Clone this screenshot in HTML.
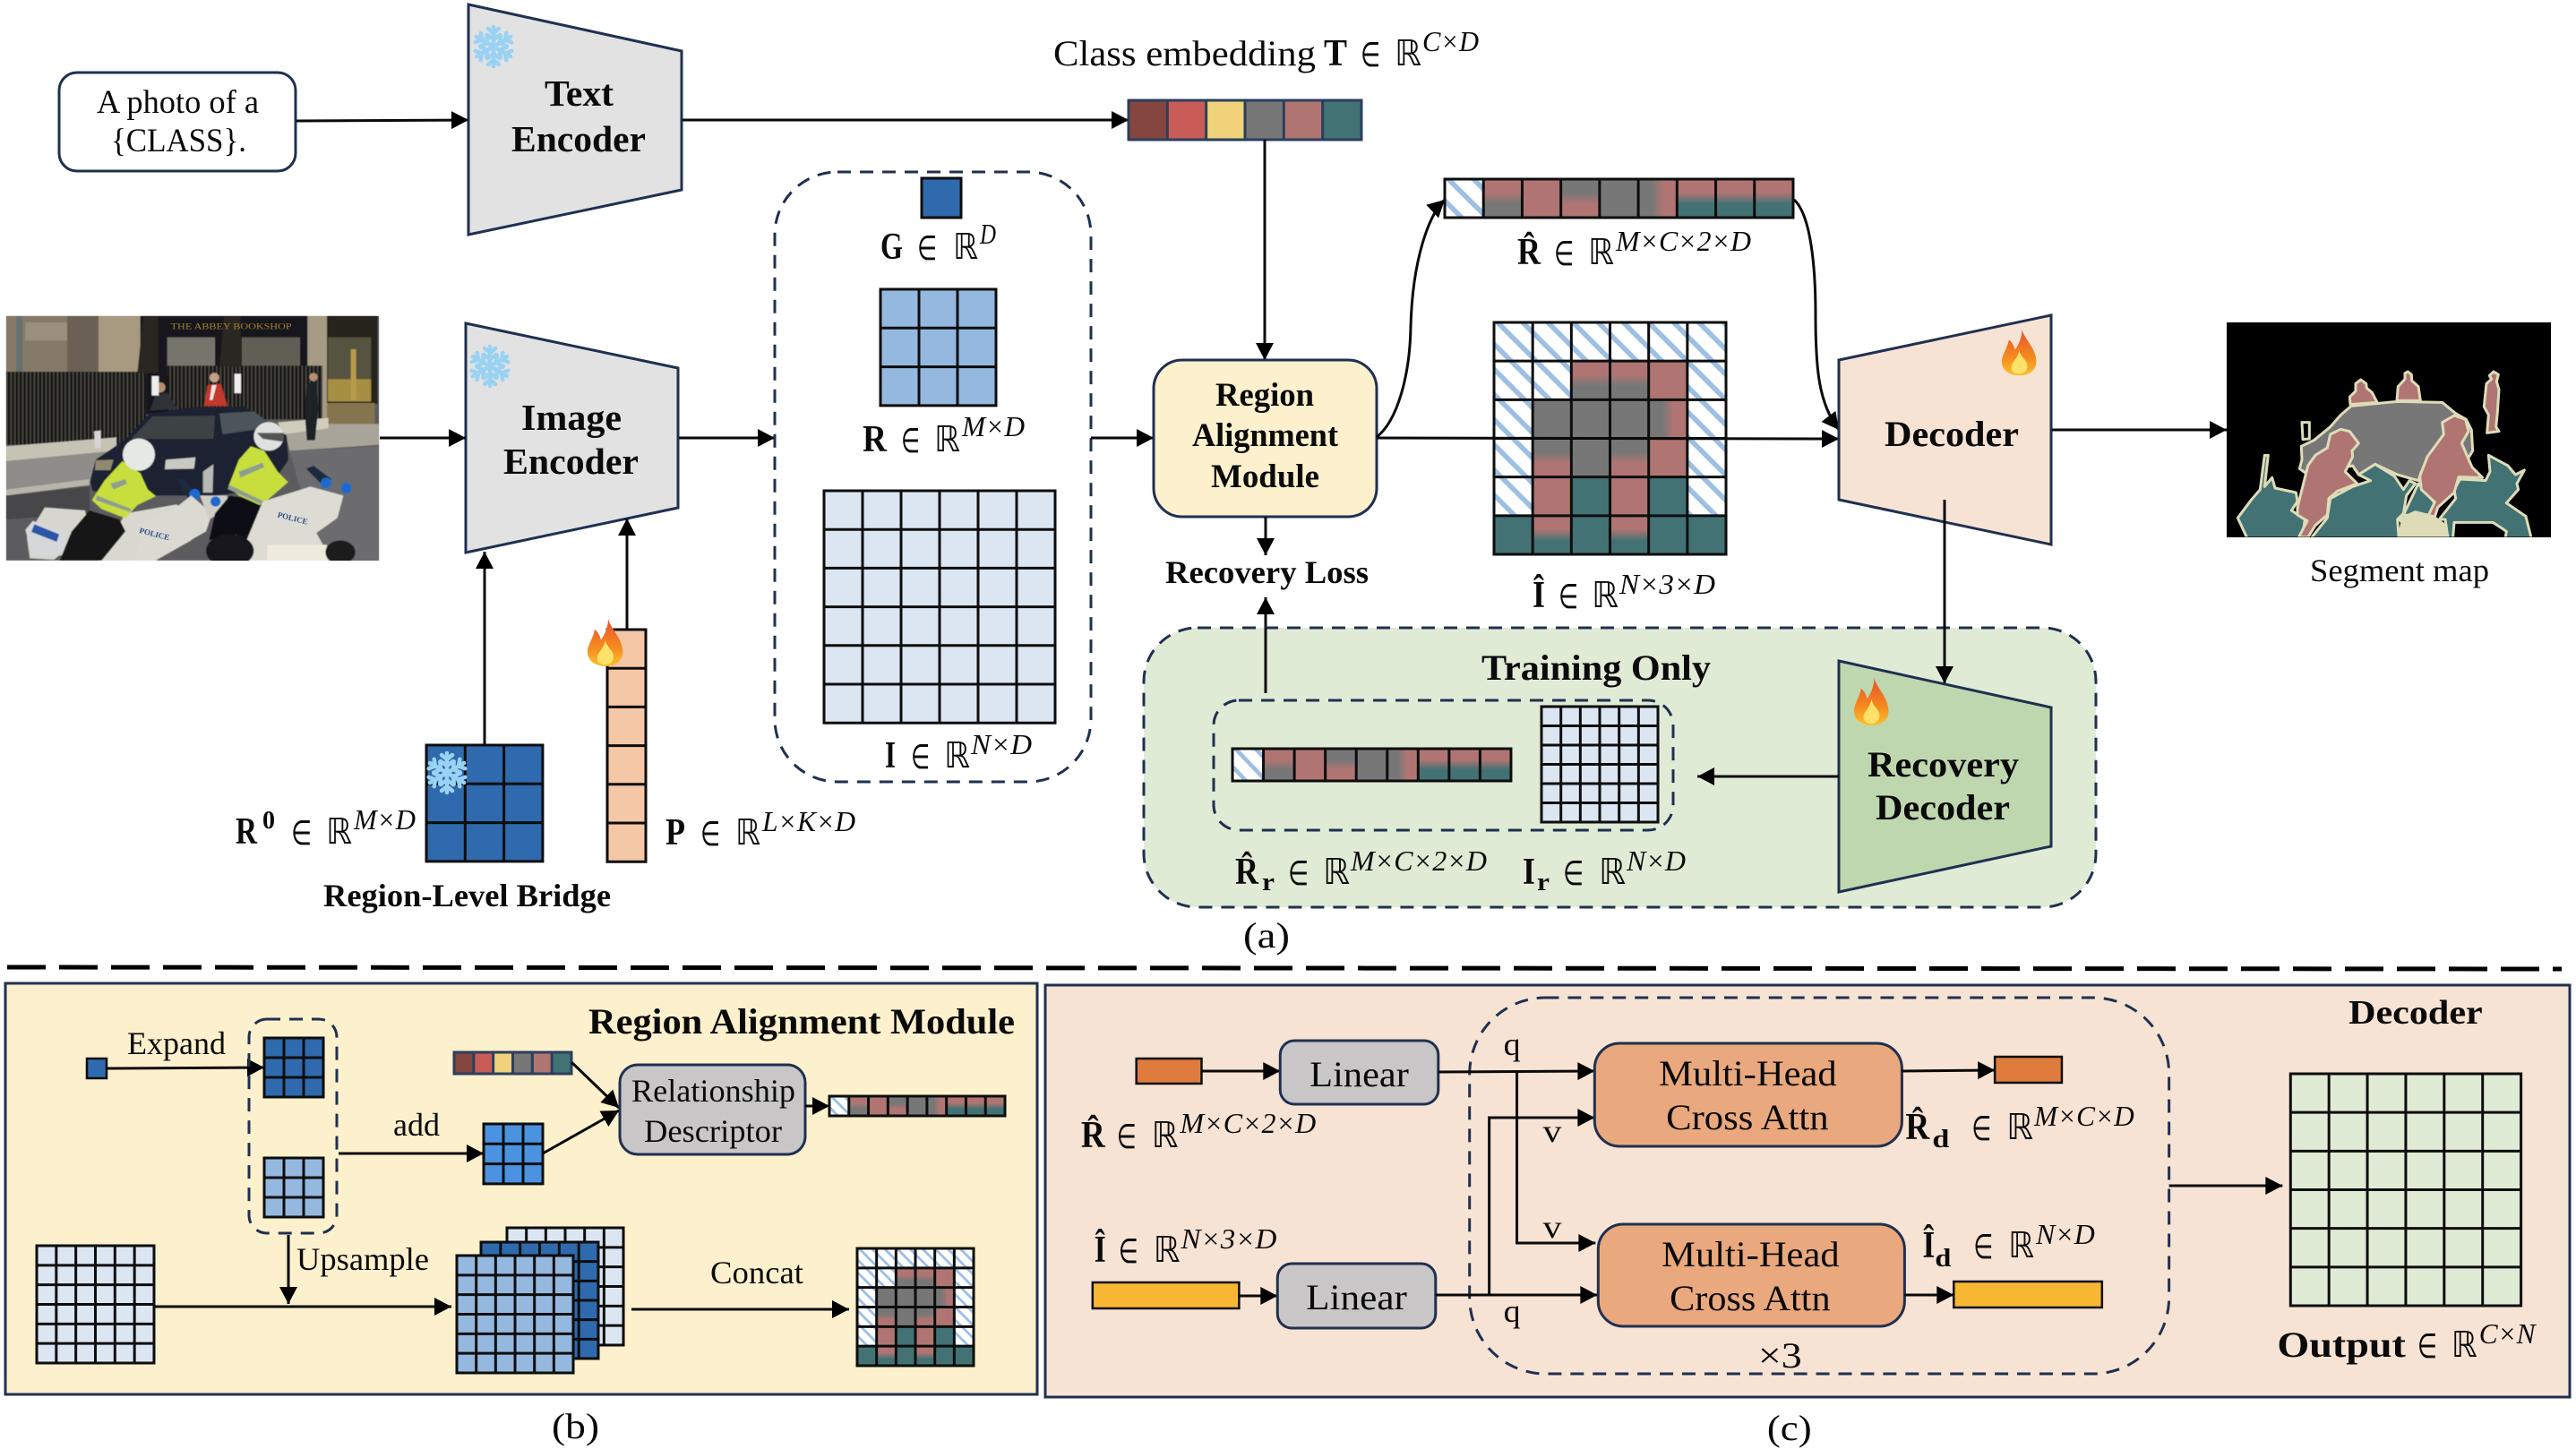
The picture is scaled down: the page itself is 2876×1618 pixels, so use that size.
<!DOCTYPE html>
<html><head><meta charset="utf-8"><title>Region alignment diagram</title>
<style>
html,body{margin:0;padding:0;background:#fff}
svg{display:block}
text{font-family:"Liberation Serif",serif;fill:#0a0a0a}
.b{font-weight:bold}
.s{font-family:"DejaVu Sans",sans-serif}
.i{font-style:italic}
.ln{fill:none;stroke:#0a0a0a;stroke-width:3}
.gr{fill:none;stroke:#0d0d0d;stroke-width:3}
.nv{stroke:#1f3050;stroke-width:3}
.dash{fill:none;stroke:#1f3050;stroke-width:3;stroke-dasharray:15 10}
</style></head><body>
<svg xmlns="http://www.w3.org/2000/svg" width="2876" height="1618" viewBox="0 0 2876 1618">
<defs>
<marker id="a" markerUnits="userSpaceOnUse" markerWidth="22" markerHeight="24" refX="20" refY="12" orient="auto"><path d="M1 2L20 12L1 22z" fill="#000"/></marker>
<pattern id="h" patternUnits="userSpaceOnUse" width=".46" height=".46" patternTransform="rotate(-45)"><rect width=".46" height=".46" fill="#fff"/><rect width=".13" height=".46" fill="#9dbfe3"/></pattern>
<linearGradient id="pg" x1="0" y1="0" x2="0" y2="1"><stop offset=".35" stop-color="#b07572"/><stop offset=".65" stop-color="#777"/></linearGradient>
<linearGradient id="gp" x1="0" y1="0" x2="0" y2="1"><stop offset=".35" stop-color="#777"/><stop offset=".65" stop-color="#b07572"/></linearGradient>
<linearGradient id="pt" x1="0" y1="0" x2="0" y2="1"><stop offset=".35" stop-color="#b07572"/><stop offset=".65" stop-color="#427274"/></linearGradient>
<linearGradient id="gh" x1="0" y1="0" x2="1" y2="0"><stop offset=".35" stop-color="#777"/><stop offset=".65" stop-color="#b07572"/></linearGradient>
<linearGradient id="fl" x1="0" y1="0" x2="0" y2="1"><stop offset="0" stop-color="#e8502a"/><stop offset=".6" stop-color="#f58a1f"/><stop offset="1" stop-color="#fbc02d"/></linearGradient>
<filter id="soft" x="0" y="0" width="100%" height="100%"><feGaussianBlur stdDeviation="1.6"/></filter>
<path id="g3" vector-effect="non-scaling-stroke" fill="none" d="M0 0H3V3H0ZM1 0V3M2 0V3M0 1H3M0 2H3"/>
<path id="g6" vector-effect="non-scaling-stroke" fill="none" d="M0 0H6V6H0ZM1 0V6M2 0V6M3 0V6M4 0V6M5 0V6M0 1H6M0 2H6M0 3H6M0 4H6M0 5H6"/>
<path id="g61" vector-effect="non-scaling-stroke" fill="none" d="M0 0H6V1H0ZM1 0V1M2 0V1M3 0V1M4 0V1M5 0V1"/>
<path id="g16" vector-effect="non-scaling-stroke" fill="none" d="M0 0H1V6H0ZM0 1H1M0 2H1M0 3H1M0 4H1M0 5H1"/>
<path id="g91" vector-effect="non-scaling-stroke" fill="none" d="M0 0H9V1H0ZM1 0V1M2 0V1M3 0V1M4 0V1M5 0V1M6 0V1M7 0V1M8 0V1"/>
<g id="tbar"><g stroke="none"><rect width="1" height="1" fill="#84463f"/><rect x="1" width="1" height="1" fill="#c95c57"/><rect x="2" width="1" height="1" fill="#efd27a"/><rect x="3" width="1" height="1" fill="#777"/><rect x="4" width="1" height="1" fill="#b07572"/><rect x="5" width="1" height="1" fill="#427274"/></g><use href="#g61"/></g>
<g id="rbar"><g stroke="none"><rect width="1" height="1" fill="url(#h)"/><rect x="1" width="1" height="1" fill="url(#pg)"/><rect x="2" width="1" height="1" fill="#b07572"/><rect x="3" width="1" height="1" fill="url(#gp)"/><rect x="4" width="1" height="1" fill="#777"/><rect x="5" width="1" height="1" fill="url(#gh)"/><rect x="6" width="1" height="1" fill="url(#pt)"/><rect x="7" width="1" height="1" fill="url(#pt)"/><rect x="8" width="1" height="1" fill="url(#pt)"/></g><use href="#g91"/></g>
<g id="ihat"><g stroke="none">
<rect width="6" height="1" fill="url(#h)"/><rect y="1" width="2" height="1" fill="url(#h)"/><rect x="2" y="1" width="1" height="1" fill="url(#pg)"/><rect x="3" y="1" width="1" height="1" fill="url(#pg)"/><rect x="4" y="1" width="1" height="1" fill="#b07572"/><rect x="5" y="1" width="1" height="4" fill="url(#h)"/>
<rect y="2" width="1" height="3" fill="url(#h)"/><rect x="1" y="2" width="3" height="1" fill="#777"/><rect x="4" y="2" width="1" height="1" fill="url(#gh)"/>
<rect x="1" y="3" width="1" height="1" fill="url(#gp)"/><rect x="2" y="3" width="1" height="1" fill="#777"/><rect x="3" y="3" width="1" height="1" fill="url(#gp)"/><rect x="4" y="3" width="1" height="1" fill="#b07572"/>
<rect x="1" y="4" width="1" height="1" fill="#b07572"/><rect x="2" y="4" width="1" height="1" fill="#427274"/><rect x="3" y="4" width="1" height="1" fill="#b07572"/><rect x="4" y="4" width="1" height="1" fill="#427274"/>
<rect y="5" width="6" height="1" fill="#427274"/><rect x="1" y="5" width="1" height="1" fill="url(#pt)"/><rect x="3" y="5" width="1" height="1" fill="url(#pt)"/>
</g><use href="#g6"/></g>
<g id="snow" fill="none" stroke="#9ad2f3" stroke-width="4.5" stroke-linecap="round">
<g id="arm"><path d="M25 25V3M25 10L19 5M25 10L31 5M25 17L18 12M25 17L32 12"/></g>
<use href="#arm" transform="rotate(60 25 25)"/><use href="#arm" transform="rotate(120 25 25)"/><use href="#arm" transform="rotate(180 25 25)"/><use href="#arm" transform="rotate(240 25 25)"/><use href="#arm" transform="rotate(300 25 25)"/>
</g>
<g id="flame"><path d="M24 0C26 10 38 20 40 34C42 47 33 54 21 54C9 54 0 47 1 36C2 28 7 23 9 12C13 15 15 20 16 24C20 18 24 9 24 0Z" fill="url(#fl)"/><path d="M21 24C22 33 31 36 30 44C29 50 25 52 20 52C14 52 11 48 12 43C13 38 19 34 21 24Z" fill="#fde26a"/></g>
<clipPath id="pc"><rect x="20" y="38" width="1250" height="820"/></clipPath>
<clipPath id="sc"><rect x="49" y="59" width="1084" height="719"/></clipPath>
<pattern id="fence" patternUnits="userSpaceOnUse" width="13" height="20"><rect width="13" height="20" fill="#55524a"/><rect width="9" height="20" fill="#121317"/></pattern>
</defs>

<!-- photo -->
<g clip-path="url(#pc)" transform="translate(0 340) scale(.33333)"><g filter="url(#soft)">
<rect x="20" y="38" width="1250" height="820" fill="#5c5c5e"/>
<rect x="20" y="38" width="320" height="300" fill="#857a68"/><rect x="225" y="38" width="105" height="190" fill="#6b6152"/><rect x="85" y="60" width="140" height="60" fill="#9a8f7c"/><rect x="330" y="38" width="140" height="300" fill="#a89a80"/>
<rect x="55" y="38" width="20" height="190" fill="#66706f"/>
<rect x="470" y="38" width="560" height="330" fill="#17171a"/>
<rect x="560" y="110" width="160" height="130" fill="#74746c"/><rect x="810" y="110" width="195" height="130" fill="#5e5e56"/>
<rect x="1030" y="38" width="65" height="370" fill="#a59a84"/><rect x="1095" y="38" width="170" height="295" fill="#26241f"/>
<rect x="1098" y="110" width="145" height="140" fill="#57523f"/><rect x="1098" y="250" width="145" height="75" fill="#a68f42"/><rect x="1175" y="150" width="18" height="170" fill="#b89a4c"/>
<rect x="1095" y="330" width="160" height="80" fill="#85754f"/>
<rect x="20" y="225" width="470" height="245" fill="url(#fence)"/><rect x="560" y="205" width="520" height="180" fill="url(#fence)"/>
<polygon points="460,230 480,38 530,38 530,230" fill="#2a2520"/><polygon points="735,210 750,38 805,38 810,210" fill="#2a2520"/>
<polygon points="20,475 390,445 390,490 20,525" fill="#c6c2b4"/>
<polygon points="20,525 400,490 320,590 20,620" fill="#8f8d89"/><polygon points="20,620 300,585 300,605 20,640" fill="#b8b5aa"/>
<polygon points="20,640 300,610 300,700 20,720" fill="#47474a"/>
<polygon points="950,400 1270,400 1270,470 970,490" fill="#a8a49a"/><polygon points="930,395 1100,380 1100,415 950,435" fill="#d0ccbc"/>
<polygon points="970,490 1270,475 1270,860 1100,860 1000,600" fill="#6c6c6e"/>
<polygon points="503,355 520,305 560,295 595,350" fill="#2e3238"/><circle cx="537" cy="278" r="17" fill="#b48f73"/>
<polygon points="683,340 695,270 740,265 762,340" fill="#c2392c"/><circle cx="718" cy="245" r="16" fill="#c6a082"/><polygon points="702,320 710,270 725,270 712,320" fill="#e8e8e8"/>
<rect x="508" y="240" width="24" height="65" fill="#eee"/><rect x="785" y="232" width="22" height="65" fill="#eee"/>
<polygon points="1020,355 1028,265 1060,260 1066,350 1055,455 1028,455" fill="#1d2026"/><circle cx="1050" cy="243" r="14" fill="#b48f73"/>
<polygon points="302,590 320,520 420,452 500,365 640,345 820,342 880,380 960,440 966,520 900,620 720,640 500,640 310,625" fill="#1a2030"/>
<polygon points="440,450 510,375 720,372 715,450" fill="#3d4244"/><polygon points="735,365 850,358 900,395 850,420 745,435" fill="#4c545a"/>
<polygon points="555,520 655,512 650,550 552,552" fill="#c8c9c0"/><polygon points="320,522 380,520 370,555 318,555" fill="#8f8a70"/>
<polygon points="315,425 338,422 338,480 318,482" fill="#d8d4d4"/>
<polygon points="680,560 715,535 712,630 680,630" fill="#b8b8b4"/>
<polygon points="90,780 150,680 285,690 300,760 180,855 100,850" fill="#d6d6ce"/>
<polygon points="85,755 110,725 225,760 215,840 110,845" fill="#d5d7d8"/><polygon points="105,762 115,736 198,770 190,795" fill="#2a55a8"/>
<polygon points="330,860 420,700 590,670 700,720 640,790 520,858" fill="#d8d8d0"/>
<polygon points="240,760 300,690 400,720 420,760 340,858 200,858" fill="#121214"/>
<polygon points="308,655 350,590 410,525 470,565 495,620 522,642 460,672 420,716 340,685" fill="#c8de3e"/>
<polygon points="325,640 440,685 435,695 320,655" fill="#8d9e8e"/><polygon points="370,600 420,585 425,600 380,620" fill="#8d9e8e"/>
<ellipse cx="465" cy="503" rx="54" ry="54" fill="#e6e8e4"/>
<polygon points="590,580 620,590 660,640 630,650" fill="#1f2a40"/><circle cx="652" cy="636" r="18" fill="#1f6bd0"/>
<polygon points="590,680 640,640 710,700 690,760 620,800 520,858 450,858 480,730" fill="#dadad2"/>
<polygon points="670,640 760,640 770,680 700,720" fill="#cfcfc8"/><circle cx="722" cy="660" r="17" fill="#1f6bd0"/>
<polygon points="720,700 770,640 900,660 900,720 830,790 790,770 700,790" fill="#101012"/>
<polygon points="765,610 800,520 840,475 885,490 930,560 965,595 890,660 870,672 800,640" fill="#c8de3e"/>
<polygon points="770,605 885,660 880,672 762,618" fill="#8d9e8e"/><polygon points="800,560 880,530 885,545 805,580" fill="#8d9e8e"/>
<ellipse cx="900" cy="442" rx="50" ry="48" fill="#dfe1e0"/><polygon points="860,430 950,430 950,460 880,450" fill="#555"/>
<polygon points="880,660 1040,610 1150,640 1130,715 1060,765 1110,858 800,858 830,780" fill="#dcdcd4"/>
<polygon points="1025,550 1050,540 1110,585 1085,610" fill="#1f2a40"/><circle cx="1092" cy="598" r="18" fill="#1f6bd0"/><circle cx="1160" cy="615" r="18" fill="#1f6bd0"/>
<ellipse cx="770" cy="825" rx="80" ry="55" fill="#17171c"/>
<rect x="895" y="805" width="200" height="60" fill="#efeadb"/>
<ellipse cx="1140" cy="830" rx="50" ry="40" fill="#1c1c1c"/>
</g>
<text x="572" y="82" font-size="28" style="fill:#a5802f" textLength="405" lengthAdjust="spacingAndGlyphs">THE ABBEY BOOKSHOP</text>
<text x="465" y="765" font-size="27" class="b" style="fill:#354e88" transform="rotate(14 465 765)">POLICE</text>
<text x="928" y="712" font-size="27" class="b" style="fill:#354e88" transform="rotate(14 928 712)">POLICE</text>
</g>

<!-- seg map -->
<rect x="2486" y="360" width="362" height="240" fill="#000"/>
<g transform="translate(2470 340) scale(.33333)" clip-path="url(#sc)" stroke="#dedcb8" stroke-width="9" stroke-linejoin="round">
<polygon fill="#777" points="298,475 340,455 395,410 430,370 465,340 620,325 770,328 815,365 850,385 868,420 872,490 860,510 700,560 690,590 620,570 545,535 490,570 470,540 320,570 292,550 300,520"/>
<g fill="#b07572">
<polygon points="462,335 460,310 480,290 480,265 497,252 515,265 517,280 535,295 552,328"/>
<polygon points="618,322 622,275 645,250 645,230 655,225 667,235 668,255 690,275 697,322"/>
<polygon points="920,430 925,370 910,342 918,265 935,250 928,238 942,225 958,235 952,258 960,285 955,360 950,410 960,425"/>
</g>
<polygon fill="#000" points="300,395 325,395 325,450 303,452"/>
<g fill="#427274">
<polygon points="85,715 130,655 160,620 175,505 187,505 175,610 200,580 210,615 280,630 285,660 265,690 310,720 300,790 120,790"/>
<polygon points="325,790 385,715 395,650 470,610 530,590 490,570 545,535 610,575 640,620 660,590 680,600 650,640 640,700 620,720 625,790"/>
<polygon points="640,705 690,600 745,665 725,710"/>
<polygon points="760,720 815,650 810,620 830,585 915,590 930,560 925,505 990,540 1015,570 1045,555 1020,600 1025,620 985,665 1050,710 1070,790 980,790 985,760 940,730 810,730 805,790 790,790 780,720"/>
</g>
<g fill="#b07572">
<polygon points="290,778 318,725 285,705 285,680 305,600 320,540 345,505 385,480 395,435 430,418 460,425 490,465 468,490 470,510 445,560 485,600 420,625 390,650 385,705 345,740 320,780"/>
<polygon points="722,710 745,662 700,620 695,575 720,510 775,435 770,395 810,372 848,385 858,425 835,465 870,545 905,580 825,578 810,630 755,680 745,712"/>
</g>
<polygon fill="#dedcb8" points="625,780 635,730 625,720 680,695 740,710 780,740 790,780"/>
</g>

<!-- prompt -->
<rect x="66" y="81" width="264" height="110" rx="20" fill="#fff" class="nv"/>
<text x="108" y="126" font-size="37" textLength="181" lengthAdjust="spacingAndGlyphs">A photo of a</text>
<text x="124" y="169" font-size="37" textLength="151" lengthAdjust="spacingAndGlyphs">{CLASS}.</text>
<path d="M331 135L523 134" class="ln" marker-end="url(#a)"/>

<!-- encoders -->
<polygon points="523,5 761,57 761,212 523,262" fill="#e2e2e2" class="nv"/>
<text x="608" y="118" font-size="41" class="b" textLength="77" lengthAdjust="spacingAndGlyphs">Text</text>
<text x="571" y="169" font-size="41" class="b" textLength="150" lengthAdjust="spacingAndGlyphs">Encoder</text>
<use href="#snow" x="526" y="27"/>
<polygon points="520,361 757,411 757,567 520,617" fill="#e2e2e2" class="nv"/>
<text x="582" y="480" font-size="41" class="b" textLength="112" lengthAdjust="spacingAndGlyphs">Image</text>
<text x="562" y="529" font-size="41" class="b" textLength="151" lengthAdjust="spacingAndGlyphs">Encoder</text>
<use href="#snow" x="522" y="384"/>
<path d="M424 489H520" class="ln" marker-end="url(#a)"/>
<path d="M758 489H865" class="ln" marker-end="url(#a)"/>
<path d="M762 134H1260" class="ln" marker-end="url(#a)"/>

<!-- bridge -->
<path d="M541 832V616" class="ln" marker-end="url(#a)"/>
<path d="M700 703V579" class="ln" marker-end="url(#a)"/>
<g class="gr" transform="translate(476 832) scale(43.3 43.3)"><rect width="3" height="3" fill="#2e6aad" stroke="none"/><use href="#g3"/></g>
<use href="#snow" x="474" y="838"/>
<g class="gr" transform="translate(678 703) scale(43 43.2)"><rect width="1" height="6" fill="#f4c7a7" stroke="none"/><use href="#g16"/></g>
<use href="#flame" transform="translate(655 691) scale(1 .98)"/>

<text x="263" y="942" font-size="42" class="b" textLength="24" lengthAdjust="spacingAndGlyphs">R</text>
<text x="293" y="925" font-size="28" class="b" textLength="14" lengthAdjust="spacingAndGlyphs">0</text>
<text x="325" y="943" font-size="38" class="s" textLength="23" lengthAdjust="spacingAndGlyphs">∈</text>
<text x="364" y="942" font-size="40" class="s" textLength="29" lengthAdjust="spacingAndGlyphs">ℝ</text>
<text x="395" y="926" font-size="32" class="i" textLength="69" lengthAdjust="spacingAndGlyphs">M×D</text>

<text x="743" y="943" font-size="42" class="b" textLength="22" lengthAdjust="spacingAndGlyphs">P</text>
<text x="782" y="944" font-size="38" class="s" textLength="22" lengthAdjust="spacingAndGlyphs">∈</text>
<text x="821" y="943" font-size="40" class="s" textLength="28" lengthAdjust="spacingAndGlyphs">ℝ</text>
<text x="851" y="928" font-size="32" class="i" textLength="104" lengthAdjust="spacingAndGlyphs">L×K×D</text>
<text x="361" y="1012" font-size="36" class="b" textLength="321" lengthAdjust="spacingAndGlyphs">Region-Level Bridge</text>

<!-- dashed G R I -->
<rect x="865" y="192" width="353" height="681" rx="70" class="dash"/>
<rect x="1029" y="199" width="44" height="44" fill="#2e6aad" stroke="#0d0d0d" stroke-width="3"/>
<text x="983" y="289" font-size="42" class="b" textLength="25" lengthAdjust="spacingAndGlyphs">G</text>
<text x="1024" y="290" font-size="38" class="s" textLength="22" lengthAdjust="spacingAndGlyphs">∈</text>
<text x="1064" y="289" font-size="40" class="s" textLength="28" lengthAdjust="spacingAndGlyphs">ℝ</text>
<text x="1094" y="272" font-size="32" class="i" textLength="18" lengthAdjust="spacingAndGlyphs">D</text>
<g class="gr" transform="translate(983 323) scale(43 43.3)"><rect width="3" height="3" fill="#95b8df" stroke="none"/><use href="#g3"/></g>
<text x="963" y="504" font-size="42" class="b" textLength="27" lengthAdjust="spacingAndGlyphs">R</text>
<text x="1006" y="505" font-size="38" class="s" textLength="21" lengthAdjust="spacingAndGlyphs">∈</text>
<text x="1043" y="504" font-size="40" class="s" textLength="29" lengthAdjust="spacingAndGlyphs">ℝ</text>
<text x="1074" y="487" font-size="32" class="i" textLength="70" lengthAdjust="spacingAndGlyphs">M×D</text>
<g class="gr" transform="translate(920 548) scale(43 43.2)"><rect width="6" height="6" fill="#dce6f2" stroke="none"/><use href="#g6"/></g>
<text x="988" y="857" font-size="42" class="b" textLength="12" lengthAdjust="spacingAndGlyphs">I</text>
<text x="1017" y="858" font-size="38" class="s" textLength="21" lengthAdjust="spacingAndGlyphs">∈</text>
<text x="1054" y="857" font-size="40" class="s" textLength="29" lengthAdjust="spacingAndGlyphs">ℝ</text>
<text x="1084" y="842" font-size="32" class="i" textLength="68" lengthAdjust="spacingAndGlyphs">N×D</text>

<!-- class embedding -->
<text x="1176" y="73" font-size="40" textLength="293" lengthAdjust="spacingAndGlyphs">Class embedding</text>
<text x="1478" y="73" font-size="42" class="b" textLength="26" lengthAdjust="spacingAndGlyphs">T</text>
<text x="1519" y="74" font-size="38" class="s" textLength="22" lengthAdjust="spacingAndGlyphs">∈</text>
<text x="1557" y="73" font-size="40" class="s" textLength="30" lengthAdjust="spacingAndGlyphs">ℝ</text>
<text x="1588" y="57" font-size="32" class="i" textLength="63" lengthAdjust="spacingAndGlyphs">C×D</text>
<g class="gr" style="stroke:#2c3e5e" transform="translate(1260 112) scale(43.33 44)"><use href="#tbar"/></g>

<!-- RAM -->
<path d="M1412 156V402" class="ln" marker-end="url(#a)"/>
<path d="M1218 489H1288" class="ln" marker-end="url(#a)"/>
<rect x="1288" y="402" width="249" height="175" rx="32" fill="#fdf0cc" class="nv"/>
<text x="1357" y="453" font-size="37" class="b" textLength="110" lengthAdjust="spacingAndGlyphs">Region</text>
<text x="1331" y="498" font-size="37" class="b" textLength="163" lengthAdjust="spacingAndGlyphs">Alignment</text>
<text x="1352" y="544" font-size="37" class="b" textLength="121" lengthAdjust="spacingAndGlyphs">Module</text>
<path d="M1413 577V620" class="ln" marker-end="url(#a)"/>
<text x="1301" y="651" font-size="36" class="b" textLength="227" lengthAdjust="spacingAndGlyphs">Recovery Loss</text>
<path d="M1413 774V667" class="ln" marker-end="url(#a)"/>

<!-- R hat and I hat -->
<path d="M1537 488C1560 470 1574 420 1575 365C1577 290 1595 240 1613 223" class="ln" marker-end="url(#a)"/>
<path d="M2003 223C2022 240 2027 300 2027 351C2027 410 2030 450 2053 480" class="ln" marker-end="url(#a)"/>
<g class="gr" transform="translate(1613 200) scale(43.22 43)"><use href="#rbar"/></g>
<text x="1694" y="295" font-size="42" class="b" textLength="26" lengthAdjust="spacingAndGlyphs">R&#x302;</text>
<text x="1735" y="296" font-size="38" class="s" textLength="22" lengthAdjust="spacingAndGlyphs">∈</text>
<text x="1773" y="295" font-size="40" class="s" textLength="29" lengthAdjust="spacingAndGlyphs">ℝ</text>
<text x="1804" y="280" font-size="32" class="i" textLength="151" lengthAdjust="spacingAndGlyphs">M×C×2×D</text>
<g class="gr" transform="translate(1668 360) scale(43.17 43.17)"><use href="#ihat"/></g>
<path d="M1537 489L2053 490" class="ln" marker-end="url(#a)"/>
<text x="1711" y="678" font-size="42" class="b" textLength="14" lengthAdjust="spacingAndGlyphs">I&#x302;</text>
<text x="1740" y="679" font-size="38" class="s" textLength="22" lengthAdjust="spacingAndGlyphs">∈</text>
<text x="1777" y="678" font-size="40" class="s" textLength="30" lengthAdjust="spacingAndGlyphs">ℝ</text>
<text x="1808" y="663" font-size="32" class="i" textLength="107" lengthAdjust="spacingAndGlyphs">N×3×D</text>

<!-- decoder -->
<polygon points="2053,402 2290,352 2290,608 2053,558" fill="#f7e3d4" class="nv"/>
<text x="2104" y="498" font-size="40" class="b" textLength="150" lengthAdjust="spacingAndGlyphs">Decoder</text>
<use href="#flame" transform="translate(2234 368) scale(.98 .95)"/>
<path d="M2291 480H2486" class="ln" marker-end="url(#a)"/>
<text x="2579" y="649" font-size="36" textLength="200" lengthAdjust="spacingAndGlyphs">Segment map</text>

<!-- training -->
<rect x="1277" y="701" width="1063" height="312" rx="60" fill="#e0ebd6" stroke="#1f3050" stroke-width="3" stroke-dasharray="15 10"/>
<path d="M1413 774V701" class="ln"/>
<path d="M2171 558V763" class="ln" marker-end="url(#a)"/>
<text x="1654" y="759" font-size="40" class="b" textLength="256" lengthAdjust="spacingAndGlyphs">Training Only</text>
<rect x="1355" y="782" width="513" height="145" rx="28" class="dash"/>
<g class="gr" transform="translate(1376 836) scale(34.55 36)"><use href="#rbar"/></g>
<g class="gr" transform="translate(1721 789) scale(21.67 21.5)"><rect width="6" height="6" fill="#dce6f2" stroke="none"/><use href="#g6"/></g>
<polygon points="2053,738 2290,790 2290,945 2053,996" fill="#bfd7ae" class="nv"/>
<text x="2085" y="867" font-size="40" class="b" textLength="169" lengthAdjust="spacingAndGlyphs">Recovery</text>
<text x="2094" y="915" font-size="40" class="b" textLength="150" lengthAdjust="spacingAndGlyphs">Decoder</text>
<use href="#flame" transform="translate(2069 757) scale(.98 .98)"/>
<path d="M2053 867H1895" class="ln" marker-end="url(#a)"/>
<text x="1379" y="987" font-size="42" class="b" textLength="26" lengthAdjust="spacingAndGlyphs">R&#x302;</text>
<text x="1409" y="994" font-size="28" class="b" textLength="14" lengthAdjust="spacingAndGlyphs">r</text>
<text x="1438" y="988" font-size="38" class="s" textLength="23" lengthAdjust="spacingAndGlyphs">∈</text>
<text x="1477" y="987" font-size="40" class="s" textLength="30" lengthAdjust="spacingAndGlyphs">ℝ</text>
<text x="1508" y="972" font-size="32" class="i" textLength="152" lengthAdjust="spacingAndGlyphs">M×C×2×D</text>
<text x="1700" y="987" font-size="42" class="b" textLength="14" lengthAdjust="spacingAndGlyphs">I</text>
<text x="1716" y="994" font-size="28" class="b" textLength="14" lengthAdjust="spacingAndGlyphs">r</text>
<text x="1745" y="988" font-size="38" class="s" textLength="23" lengthAdjust="spacingAndGlyphs">∈</text>
<text x="1785" y="987" font-size="40" class="s" textLength="30" lengthAdjust="spacingAndGlyphs">ℝ</text>
<text x="1816" y="972" font-size="32" class="i" textLength="66" lengthAdjust="spacingAndGlyphs">N×D</text>
<text x="1388" y="1058" font-size="40" textLength="52" lengthAdjust="spacingAndGlyphs">(a)</text>

<!-- separator -->
<path d="M8 1080L2860 1082" fill="none" stroke="#000" stroke-width="5" stroke-dasharray="43 15"/>

<!-- panel b -->
<rect x="6" y="1098" width="1152" height="459" fill="#fdf0cc" class="nv"/>
<text x="657" y="1154" font-size="40" class="b" textLength="476" lengthAdjust="spacingAndGlyphs">Region Alignment Module</text>
<rect x="97" y="1182" width="22" height="22" fill="#2e6aad" stroke="#0d0d0d" stroke-width="2.5"/>
<path d="M119 1193L295 1192" class="ln" marker-end="url(#a)"/>
<text x="142" y="1177" font-size="36" textLength="110" lengthAdjust="spacingAndGlyphs">Expand</text>
<rect x="278" y="1138" width="98" height="239" rx="20" class="dash"/>
<g class="gr" transform="translate(295 1159) scale(22 22)"><rect width="3" height="3" fill="#2e6aad" stroke="none"/><use href="#g3"/></g>
<g class="gr" transform="translate(295 1293) scale(22 22)"><rect width="3" height="3" fill="#95b8df" stroke="none"/><use href="#g3"/></g>
<path d="M378 1288H540" class="ln" marker-end="url(#a)"/>
<text x="439" y="1268" font-size="36" textLength="52" lengthAdjust="spacingAndGlyphs">add</text>
<g class="gr" transform="translate(540 1255) scale(22 22.3)"><rect width="3" height="3" fill="#4b93e0" stroke="none"/><use href="#g3"/></g>
<g class="gr" style="stroke:#2c3e5e" transform="translate(507 1175) scale(21.83 24)"><use href="#tbar"/></g>
<path d="M638 1186L691 1237" class="ln" marker-end="url(#a)"/>
<path d="M606 1288L691 1240" class="ln" marker-end="url(#a)"/>
<rect x="692" y="1189" width="207" height="100" rx="20" fill="#c8c6c7" class="nv"/>
<text x="705" y="1230" font-size="36" textLength="183" lengthAdjust="spacingAndGlyphs">Relationship</text>
<text x="719" y="1275" font-size="36" textLength="154" lengthAdjust="spacingAndGlyphs">Descriptor</text>
<path d="M899 1235H926" class="ln" marker-end="url(#a)"/>
<g class="gr" transform="translate(926 1224) scale(21.78 22)"><use href="#rbar"/></g>
<g class="gr" transform="translate(41 1391) scale(21.83 21.83)"><rect width="6" height="6" fill="#dce6f2" stroke="none"/><use href="#g6"/></g>
<path d="M173 1459H504" class="ln" marker-end="url(#a)"/>
<path d="M322 1379V1456" class="ln" marker-end="url(#a)"/>
<text x="331" y="1418" font-size="36" textLength="148" lengthAdjust="spacingAndGlyphs">Upsample</text>
<g class="gr" transform="translate(566 1371) scale(21.67 21.83)"><rect width="6" height="6" fill="#dce6f2" stroke="none"/><use href="#g6"/></g>
<g class="gr" transform="translate(537 1387) scale(21.83 21.67)"><rect width="6" height="6" fill="#2e6aad" stroke="none"/><use href="#g6"/></g>
<g class="gr" transform="translate(510 1402) scale(21.67 21.83)"><rect width="6" height="6" fill="#95b8df" stroke="none"/><use href="#g6"/></g>
<path d="M705 1462H948" class="ln" marker-end="url(#a)"/>
<text x="793" y="1433" font-size="36" textLength="104" lengthAdjust="spacingAndGlyphs">Concat</text>
<g class="gr" transform="translate(957 1394) scale(21.67 21.83)"><use href="#ihat"/></g>
<text x="616" y="1606" font-size="40" textLength="53" lengthAdjust="spacingAndGlyphs">(b)</text>

<!-- panel c -->
<rect x="1167" y="1100" width="1702" height="460" fill="#f7e3d4" class="nv"/>
<g transform="translate(1150 0) scale(.99736 1) translate(-1150 0)">
<rect x="1642" y="1114" width="783" height="420" rx="85" class="dash"/>
<text x="2626" y="1143" font-size="38" class="b" textLength="150" lengthAdjust="spacingAndGlyphs">Decoder</text>
<rect x="1269" y="1182" width="73" height="28" fill="#df7b3c" stroke="#0d0d0d" stroke-width="2.5"/>
<path d="M1342 1196H1430" class="ln" marker-end="url(#a)"/>
<rect x="1430" y="1162" width="177" height="71" rx="16" fill="#c8c6c7" class="nv"/>
<text x="1463" y="1213" font-size="40" textLength="111" lengthAdjust="spacingAndGlyphs">Linear</text>
<text x="1207" y="1281" font-size="42" class="b" textLength="27" lengthAdjust="spacingAndGlyphs">R&#x302;</text>
<text x="1247" y="1282" font-size="38" class="s" textLength="22" lengthAdjust="spacingAndGlyphs">∈</text>
<text x="1286" y="1281" font-size="40" class="s" textLength="30" lengthAdjust="spacingAndGlyphs">ℝ</text>
<text x="1318" y="1265" font-size="32" class="i" textLength="152" lengthAdjust="spacingAndGlyphs">M×C×2×D</text>
<text x="1222" y="1409" font-size="42" class="b" textLength="13" lengthAdjust="spacingAndGlyphs">I&#x302;</text>
<text x="1249" y="1410" font-size="38" class="s" textLength="22" lengthAdjust="spacingAndGlyphs">∈</text>
<text x="1288" y="1409" font-size="40" class="s" textLength="30" lengthAdjust="spacingAndGlyphs">ℝ</text>
<text x="1319" y="1394" font-size="32" class="i" textLength="107" lengthAdjust="spacingAndGlyphs">N×3×D</text>
<rect x="1220" y="1432" width="164" height="29" fill="#f7b733" stroke="#0d0d0d" stroke-width="2.5"/>
<path d="M1384 1447H1427" class="ln" marker-end="url(#a)"/>
<rect x="1427" y="1411" width="177" height="72" rx="16" fill="#c8c6c7" class="nv"/>
<text x="1459" y="1462" font-size="40" textLength="113" lengthAdjust="spacingAndGlyphs">Linear</text>
<path d="M1607 1197L1782 1196" class="ln" marker-end="url(#a)"/>
<path d="M1695 1197V1388H1783" class="ln" marker-end="url(#a)"/>
<path d="M1664 1446V1248H1782" class="ln" marker-end="url(#a)"/>
<path d="M1604 1446H1785" class="ln" marker-end="url(#a)"/>
<text x="1680" y="1178" font-size="36" textLength="19" lengthAdjust="spacingAndGlyphs">q</text>
<text x="1724" y="1275" font-size="36" textLength="21" lengthAdjust="spacingAndGlyphs">v</text>
<text x="1724" y="1382" font-size="36" textLength="21" lengthAdjust="spacingAndGlyphs">v</text>
<text x="1680" y="1476" font-size="36" textLength="19" lengthAdjust="spacingAndGlyphs">q</text>
<rect x="1782" y="1165" width="344" height="115" rx="28" fill="#e9a87d" class="nv"/>
<text x="1854" y="1212" font-size="40" textLength="199" lengthAdjust="spacingAndGlyphs">Multi-Head</text>
<text x="1862" y="1261" font-size="40" textLength="182" lengthAdjust="spacingAndGlyphs">Cross Attn</text>
<rect x="1786" y="1367" width="343" height="114" rx="28" fill="#e9a87d" class="nv"/>
<text x="1857" y="1414" font-size="40" textLength="199" lengthAdjust="spacingAndGlyphs">Multi-Head</text>
<text x="1866" y="1463" font-size="40" textLength="180" lengthAdjust="spacingAndGlyphs">Cross Attn</text>
<path d="M2126 1196L2230 1195" class="ln" marker-end="url(#a)"/>
<rect x="2230" y="1180" width="75" height="29" fill="#df7b3c" stroke="#0d0d0d" stroke-width="2.5"/>
<path d="M2129 1446H2184" class="ln" marker-end="url(#a)"/>
<rect x="2184" y="1431" width="166" height="29" fill="#f7b733" stroke="#0d0d0d" stroke-width="2.5"/>
<text x="2130" y="1272" font-size="42" class="b" textLength="27" lengthAdjust="spacingAndGlyphs">R&#x302;</text>
<text x="2160" y="1281" font-size="28" class="b" textLength="19" lengthAdjust="spacingAndGlyphs">d</text>
<text x="2204" y="1273" font-size="38" class="s" textLength="22" lengthAdjust="spacingAndGlyphs">∈</text>
<text x="2243" y="1272" font-size="40" class="s" textLength="30" lengthAdjust="spacingAndGlyphs">ℝ</text>
<text x="2274" y="1257" font-size="32" class="i" textLength="112" lengthAdjust="spacingAndGlyphs">M×C×D</text>
<text x="2149" y="1404" font-size="42" class="b" textLength="14" lengthAdjust="spacingAndGlyphs">I&#x302;</text>
<text x="2163" y="1414" font-size="28" class="b" textLength="18" lengthAdjust="spacingAndGlyphs">d</text>
<text x="2206" y="1405" font-size="38" class="s" textLength="22" lengthAdjust="spacingAndGlyphs">∈</text>
<text x="2245" y="1404" font-size="40" class="s" textLength="29" lengthAdjust="spacingAndGlyphs">ℝ</text>
<text x="2276" y="1389" font-size="32" class="i" textLength="66" lengthAdjust="spacingAndGlyphs">N×D</text>
<text x="1965" y="1527" font-size="40" textLength="49" lengthAdjust="spacingAndGlyphs">×3</text>
<path d="M2425 1324H2552" class="ln" marker-end="url(#a)"/>
<g class="gr" transform="translate(2561 1199) scale(43 43.17)"><rect width="6" height="6" fill="#e0ebd6" stroke="none"/><use href="#g6"/></g>
<text x="2546" y="1515" font-size="40" class="b" textLength="144" lengthAdjust="spacingAndGlyphs">Output</text>
<text x="2703" y="1516" font-size="38" class="s" textLength="22" lengthAdjust="spacingAndGlyphs">∈</text>
<text x="2741" y="1515" font-size="40" class="s" textLength="29" lengthAdjust="spacingAndGlyphs">ℝ</text>
<text x="2772" y="1500" font-size="32" class="i" textLength="63" lengthAdjust="spacingAndGlyphs">C×N</text>
<text x="1975" y="1608" font-size="40" textLength="50" lengthAdjust="spacingAndGlyphs">(c)</text>
</g>
</svg>
</body></html>
